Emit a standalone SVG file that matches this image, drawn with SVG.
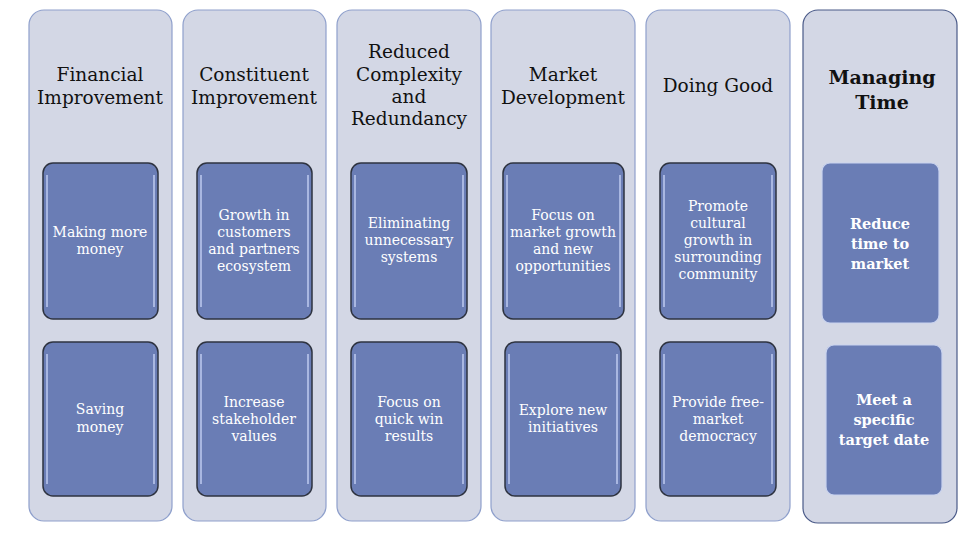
<svg xmlns="http://www.w3.org/2000/svg" width="980" height="533" viewBox="0 0 980 533">
<style>
.col{fill:#d3d7e5;stroke:#8fa0cc;stroke-width:1.2}
.box{fill:#6a7db5;stroke:#2e3340;stroke-width:1.5}
.box2{fill:#6a7db5;stroke:#c9d3ef;stroke-width:1.2}
.shine{fill:none;stroke:#b9c6ec;stroke-width:2;opacity:.8}
.t{font-family:"DejaVu Serif","Liberation Serif",serif;font-size:18.5px;fill:#111;text-anchor:middle}
.tb{font-family:"DejaVu Serif","Liberation Serif",serif;font-size:19px;font-weight:bold;fill:#111;text-anchor:middle}
.s{font-family:"DejaVu Serif","Liberation Serif",serif;font-size:14px;fill:#fff;text-anchor:middle}
.sb{font-family:"DejaVu Serif","Liberation Serif",serif;font-size:14.5px;font-weight:bold;fill:#fff;text-anchor:middle}
</style>
<rect width="980" height="533" fill="#fff"/>
<g id="col1">
<rect class="col" x="29" y="10" width="143" height="511" rx="15"/>
<text class="t" x="100" y="81">Financial</text><text class="t" x="100" y="104">Improvement</text>
<rect class="box" x="43" y="163" width="115" height="156" rx="10"/><path class="shine" d="M47 175V307M154 175V307"/>
<text class="s" x="100" y="237">Making more</text><text class="s" x="100" y="254">money</text>
<rect class="box" x="43" y="342" width="115" height="154" rx="10"/><path class="shine" d="M47 354V484M154 354V484"/>
<text class="s" x="100" y="414">Saving</text><text class="s" x="100" y="432">money</text>
</g>
<g id="col2">
<rect class="col" x="183" y="10" width="143" height="511" rx="15"/>
<text class="t" x="254" y="81">Constituent</text><text class="t" x="254" y="104">Improvement</text>
<rect class="box" x="197" y="163" width="115" height="156" rx="10"/><path class="shine" d="M201 175V307M308 175V307"/>
<text class="s" x="254" y="220">Growth in</text><text class="s" x="254" y="237">customers</text><text class="s" x="254" y="254">and partners</text><text class="s" x="254" y="271">ecosystem</text>
<rect class="box" x="197" y="342" width="115" height="154" rx="10"/><path class="shine" d="M201 354V484M308 354V484"/>
<text class="s" x="254" y="407">Increase</text><text class="s" x="254" y="424">stakeholder</text><text class="s" x="254" y="441">values</text>
</g>
<g id="col3">
<rect class="col" x="337" y="10" width="144" height="511" rx="15"/>
<text class="t" x="409" y="58">Reduced</text><text class="t" x="409" y="81">Complexity</text><text class="t" x="409" y="103">and</text><text class="t" x="409" y="125">Redundancy</text>
<rect class="box" x="351" y="163" width="116" height="156" rx="10"/><path class="shine" d="M355 175V307M463 175V307"/>
<text class="s" x="409" y="228">Eliminating</text><text class="s" x="409" y="245">unnecessary</text><text class="s" x="409" y="262">systems</text>
<rect class="box" x="351" y="342" width="116" height="154" rx="10"/><path class="shine" d="M355 354V484M463 354V484"/>
<text class="s" x="409" y="407">Focus on</text><text class="s" x="409" y="424">quick win</text><text class="s" x="409" y="441">results</text>
</g>
<g id="col4">
<rect class="col" x="491" y="10" width="144" height="511" rx="15"/>
<text class="t" x="563" y="81">Market</text><text class="t" x="563" y="104">Development</text>
<rect class="box" x="503" y="163" width="121" height="156" rx="10"/><path class="shine" d="M507 175V307M620 175V307"/>
<text class="s" x="563" y="220">Focus on</text><text class="s" x="563" y="237">market growth</text><text class="s" x="563" y="254">and new</text><text class="s" x="563" y="271">opportunities</text>
<rect class="box" x="505" y="342" width="116" height="154" rx="10"/><path class="shine" d="M509 354V484M617 354V484"/>
<text class="s" x="563" y="415">Explore new</text><text class="s" x="563" y="432">initiatives</text>
</g>
<g id="col5">
<rect class="col" x="646" y="10" width="144" height="511" rx="15"/>
<text class="t" x="718" y="92">Doing Good</text>
<rect class="box" x="660" y="163" width="116" height="156" rx="10"/><path class="shine" d="M664 175V307M772 175V307"/>
<text class="s" x="718" y="211">Promote</text><text class="s" x="718" y="228">cultural</text><text class="s" x="718" y="245">growth in</text><text class="s" x="718" y="262">surrounding</text><text class="s" x="718" y="279">community</text>
<rect class="box" x="660" y="342" width="116" height="154" rx="10"/><path class="shine" d="M664 354V484M772 354V484"/>
<text class="s" x="718" y="407">Provide free-</text><text class="s" x="718" y="424">market</text><text class="s" x="718" y="441">democracy</text>
</g>
<g id="col6">
<rect class="col" x="803" y="10" width="154" height="513" rx="15" style="stroke:#4a5a88"/>
<text class="tb" x="882" y="84">Managing</text><text class="tb" x="882" y="109">Time</text>
<rect class="box2" x="822" y="163" width="117" height="160" rx="8"/>
<text class="sb" x="880" y="229">Reduce</text><text class="sb" x="880" y="249">time to</text><text class="sb" x="880" y="269">market</text>
<rect class="box2" x="826" y="345" width="116" height="150" rx="8"/>
<text class="sb" x="884" y="405">Meet a</text><text class="sb" x="884" y="425">specific</text><text class="sb" x="884" y="445">target date</text>
</g>
<g id="connectors"/>
</svg>
